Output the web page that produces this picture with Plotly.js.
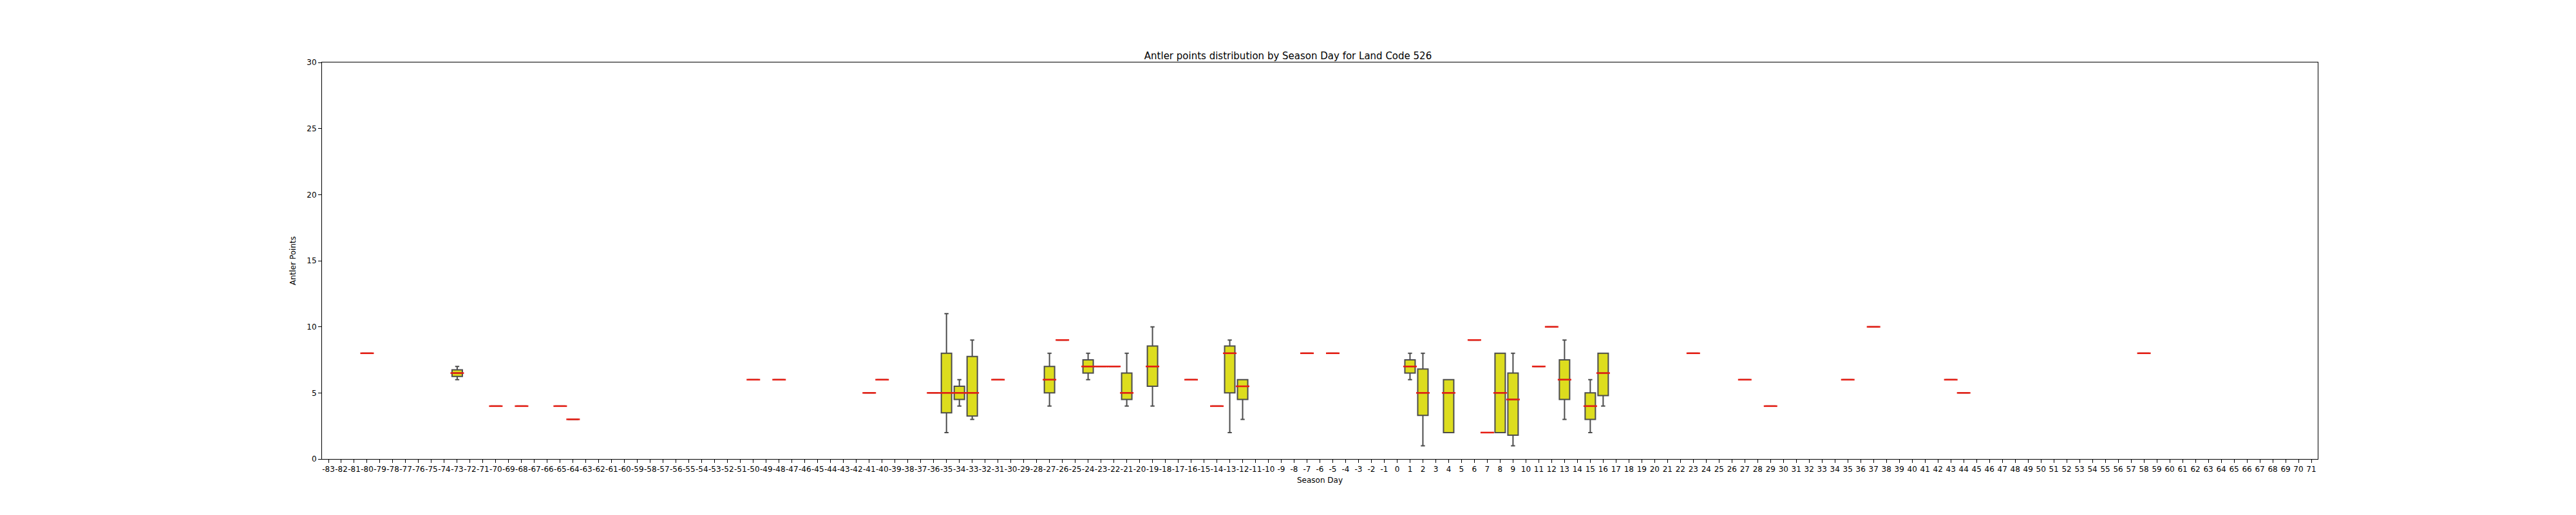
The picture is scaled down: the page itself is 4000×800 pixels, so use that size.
<!DOCTYPE html>
<html>
<head>
<meta charset="utf-8">
<script src="https://cdn.plot.ly/plotly-3.0.1.min.js"></script>
<style>body{margin:0;background:#fff}</style>
</head>
<body>
<div id="chart" style="width:4000px;height:800px"></div>
<script>
// season day axis, every day from first to last
var firstDay = -83, lastDay = 71;
var dayLabels = [];
for (var d = firstDay; d <= lastDay; d++) dayLabels.push(String(d));

// per-day box stats
var days   = ['-80','-73','-70','-68','-65','-64','-50','-48','-41','-40','-36','-35','-34','-33','-31','-27','-26','-24','-23','-22','-21','-19','-16','-14','-13','-12','-7','-5','1','2','4','6','7','8','9','11','12','13','15','16','23','27','29','35','37','43','44','58'];
var lowW   = [8, 6, 4, 4, 4, 3, 6, 6, 5, 6, 5, 2,   4,   3,    6, 4, 9, 6,   7, 7, 4,   4,    6, 4, 2,    3,   8, 8, 6,   1,   2, 9, 2, 2, 1,   7, 10, 3,   2, 4,   8, 6, 4, 6, 10, 6, 5, 8];
var q1     = [8, 6.25, 4, 4, 4, 3, 6, 6, 5, 6, 5, 3.5, 4.5, 3.25, 6, 5, 9, 6.5, 7, 7, 4.5, 5.5,  6, 4, 5,    4.5, 8, 8, 6.5, 3.3, 2, 9, 2, 2, 1.8, 7, 10, 4.5, 3, 4.8, 8, 6, 4, 6, 10, 6, 5, 8];
var medians= [8, 6.5, 4, 4, 4, 3, 6, 6, 5, 6, 5, 5,   5,   5,    6, 6, 9, 7,   7, 7, 5,   7,    6, 4, 8,    5.5, 8, 8, 7,   5,   5, 9, 2, 5, 4.5, 7, 10, 6,   4, 6.5, 8, 6, 4, 6, 10, 6, 5, 8];
var q3     = [8, 6.75, 4, 4, 4, 3, 6, 6, 5, 6, 5, 8,   5.5, 7.75, 6, 7, 9, 7.5, 7, 7, 6.5, 8.55, 6, 4, 8.55, 6,   8, 8, 7.5, 6.8, 6, 9, 2, 8, 6.5, 7, 10, 7.5, 5, 8,   8, 6, 4, 6, 10, 6, 5, 8];
var highW  = [8, 7, 4, 4, 4, 3, 6, 6, 5, 6, 5, 11,  6,   9,    6, 8, 9, 8,   7, 7, 8,   10,   6, 4, 9,    6,   8, 8, 8,   8,   6, 9, 2, 8, 8,   7, 10, 9,   6, 8,   8, 6, 4, 6, 10, 6, 5, 8];

var boxes = {
  type: 'box',
  x: days,
  q1: q1,
  median: medians,
  q3: q3,
  lowerfence: lowW,
  upperfence: highW,
  width: 0.8,
  whiskerwidth: 0.4,
  boxpoints: false,
  fillcolor: 'rgb(221,221,30)',
  line: {color: '#4d4d4d', width: 2},
  hoverinfo: 'skip',
  showlegend: false
};

var medianLines = {
  type: 'scatter',
  mode: 'markers',
  x: days,
  y: medians,
  marker: {symbol: 'line-ew', size: 15, line: {color: 'rgb(230,30,20)', width: 2.5}},
  hoverinfo: 'skip',
  showlegend: false
};

var axisFont = {family: 'DejaVu Sans', size: 12, color: '#000'};

var layout = {
  width: 4000,
  height: 800,
  margin: {l: 500, r: 401, t: 97, b: 87},
  paper_bgcolor: '#fff',
  plot_bgcolor: '#fff',
  font: axisFont,
  title: {text: 'Antler points distribution by Season Day for Land Code 526', font: {family: 'DejaVu Sans', size: 15, color: '#000'}, x: 0.5, xanchor: 'center', y: 0.885, yanchor: 'bottom'},
  xaxis: {
    type: 'category',
    categoryorder: 'array',
    categoryarray: dayLabels,
    tickvals: dayLabels,
    ticktext: dayLabels,
    tickangle: 0,
    range: [-0.5, dayLabels.length - 0.5],
    showgrid: false,
    zeroline: false,
    showline: true, mirror: true, linecolor: '#000', linewidth: 1,
    ticks: 'outside', ticklen: 5, tickcolor: '#000',
    tickfont: axisFont,
    title: {text: 'Season Day', font: axisFont, standoff: 6}
  },
  yaxis: {
    range: [0, 30],
    dtick: 5,
    showgrid: false,
    zeroline: false,
    showline: true, mirror: true, linecolor: '#000', linewidth: 1,
    ticks: 'outside', ticklen: 5, tickcolor: '#000',
    tickfont: axisFont,
    title: {text: 'Antler Points', font: axisFont, standoff: 14}
  }
};

Plotly.newPlot('chart', [boxes, medianLines], layout, {staticPlot: true});
</script>
</body>
</html>
